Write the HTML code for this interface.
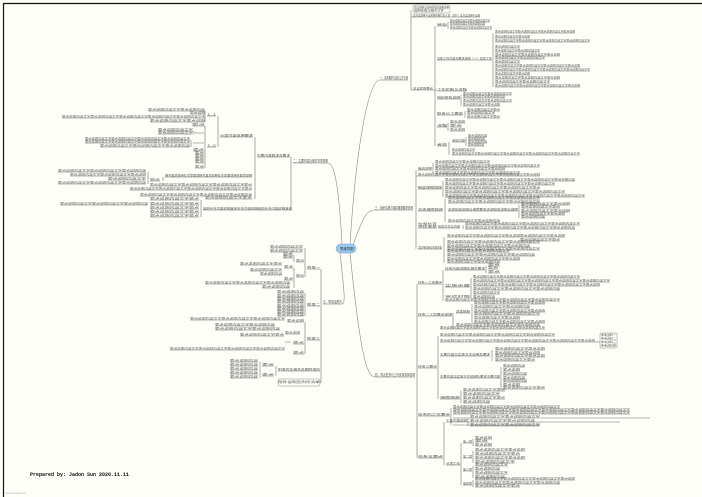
<!DOCTYPE html>
<html><head><meta charset="utf-8"><style>
html,body{margin:0;padding:0;background:#fffff8;}
svg{display:block}
text{font-family:"Liberation Sans","Noto Sans CJK SC",sans-serif;font-size:3px;fill:#555}
.n{font-size:3.2px;fill:#444}
.t{fill:#666;font-size:2.8px}
</style></head><body>
<svg width="702" height="497" viewBox="0 0 702 497" xmlns="http://www.w3.org/2000/svg">
<rect width="702" height="497" fill="#fffff8"/>
<path d="M3.5 497V3.5H702" fill="none" stroke="#111" stroke-width="1.2"/>
<g fill="none" stroke="#888" stroke-width="0.6">
<path d="M350 244C356 150 368 80 380 80"/>
<path d="M353 245C362 220 366 210 375 210"/>
<path d="M350 253C360 350 366 377 375 377"/>
<path d="M342 244C339 190 335 163 328 163"/>
<path d="M340 253C344 290 346 304 342 304"/>
</g>
<rect x="336" y="244" width="20" height="9" rx="4.5" fill="#9cc9ea" stroke="#6fa6d2" stroke-width="0.5"/>
<text x="340" y="249.8" class="n" style="font-size:3.4px;fill:#234">思维导图</text>

<g fill="none" stroke="#666" stroke-width="0.55">
<path d="M380 80H408 M411 10V90 M411 17H413 M413 17H480 M411 90H433 M435 26V146 M433 90H437
M437 26H447 M448 22V29 M450 22H490 M450 25H485 M450 29H492
M437 60H492 M493 33V87 M495 33H575 M495 38H530 M495 42H590 M495 48H520 M495 52H540 M495 56H560 M495 59H545 M495 63H520 M495 67H580 M495 71H590 M495 75H530 M495 79H560 M495 83H550 M495 87H580
M437 91H467 M437 99H460 M461 95V106 M463 95H512 M463 98H505 M463 102H512 M463 106H500
M437 115H463 M465 111V118 M467 111H500 M467 114H495 M467 118H500
M437 127H447 M448 123V131 M450 123H465 M450 127H462 M450 131H465
M437 146H447 M449 142V155 M452 142H465 M466 137V146 M468 137H487 M468 140H485 M468 143H487 M468 146H484 M452 151H475 M452 155H580
M375 210H413 M416 170V249
M418 170H432 M433 163V174 M435 163H490 M435 167H540 M435 170H505 M435 174H520
M416 176H540
M418 189H442 M443 181V197 M445 181H575 M445 185H555 M445 189H540 M445 193H565 M445 197H585
M418 211H443 M445 199V222 M448 199H540 M448 203H540 M448 211H518 M448 222H500 M519 205V218 M521 205H570 M521 208H560 M521 212H570 M521 215H565 M521 218H545
M418 228H437 M438 228H460 M463 225V229 M465 225H580 M465 229H575
M418 249H442 M444 237V263 M447 237H520 M447 243H540 M447 247H530 M447 250H540 M447 252H510 M447 256H535 M447 260H520 M447 263H500 M520 237H565 M520 241H560
M375 377H415 M417 284V458
M418 284H442 M443 270V301 M445 270H485 M486 266V273 M488 266H500 M488 269H498 M488 273H500 M445 287H470 M471 278V298 M473 278H580 M473 282H610 M473 286H600 M473 290H560 M473 294H500 M473 298H495 M445 301H560
M418 316H452 M453 313V329 M456 313H470 M472 304V323 M474 304H545 M474 308H530 M474 312H545 M474 315H540 M474 319H520 M474 323H545 M456 326H540 M440 329H545
M418 368H437 M438 336V399 M440 336H555 M440 342H595 M595 342H600 M440 356H490 M492 350V361 M495 350H545 M495 354H540 M495 357H545 M495 361H535
M440 378H500 M501 367V389 M503 367H525 M503 371H520 M503 375H527 M503 379H525 M503 382H527 M503 386H520 M503 389H545
M440 399H460 M461 391V403 M463 391H505 M463 395H500 M463 399H505 M463 403H490
M418 416H450 M451 408V425 M453 408H560 M453 411H630 M453 414H630 M453 418H650 M453 422H620 M453 425H540
M418 458H443 M444 422V465 M446 422H467 M468 418V426 M470 418H540 M470 422H535 M470 426H540 M446 465H460 M461 443V485
M463 443H472 M473 439V446 M475 439H492 M475 442H488 M475 446H492
M463 458H472 M473 451V463 M475 451H525 M475 455H520 M475 459H525 M475 463H515
M463 471H472 M473 466V478 M475 466H508 M475 470H500 M475 474H508 M475 478H505
M463 485H472 M473 480V487 M475 480H575 M475 484H560 M475 487H520
M293 163H328 M291 157V210 M257 157H290 M255 137V199
M220 137H253 M218 116V147 M207 116H216 M207 147H216 M205 111V122 M148 111H205 M190 114H205 M62 118H205 M150 122H205
M205 126V168 M192 126H205 M195 133H204 M194 131V134 M158 131H193 M158 134H193 M193 143H204 M191 140V147 M85 140H190 M85 143H190 M100 147H190 M193 151H204 M195 154H204 M195 157H204 M195 160H204 M195 163H204 M195 168H204
M165 177H252 M163 177V181 M150 181H160 M148 172V184 M58 172H146 M70 176H146 M108 180H146 M58 184H146
M150 186H252 M130 190H252 M140 196H252 M205 199H252
M203 210H292 M201 200V217 M150 200H199 M150 205H199 M60 205H148 M150 209H199 M150 213H199 M150 217H199
M323 304H342 M321 269V383 M307 269H320 M307 306H320 M307 340H320 M278 371H320
M270 248H303 M270 252H303 M305 248V277 M296 262H304 M294 255V262 M283 255H293 M283 258H293 M296 277H304 M294 268V288 M284 268H293 M240 265H282 M250 271H282 M284 280H293 M260 275H282 M205 284H290 M262 288H290
M305 293V316 M277 293H304 M277 297H304 M277 300H304 M277 303H304 M277 307H304 M277 310H304 M277 313H304 M277 316H304
M305 322V354 M287 322H304 M190 320H285 M285 334H300 M215 326H275 M215 330H280 M240 336H284 M293 344H304 M285 342H291 M170 350H285 M293 354H304
M276 366V376 M262 366H274 M260 362V378 M230 362H258 M230 366H258 M230 370H258 M262 376H274 M230 374H258 M230 378H258"/>
</g>
<g fill="none" stroke="#888" stroke-width="0.5">
<rect x="413" y="5" width="37" height="8" rx="1.5"/>
<rect x="600" y="333" width="17" height="15" rx="1"/>
<rect x="278" y="379" width="42" height="7" rx="1.5"/>
</g>

<text class="n" x="380" y="79" textLength="28" lengthAdjust="spacingAndGlyphs">一、总体要求与目标工作方案</text>
<text class="n" x="375" y="209" textLength="38" lengthAdjust="spacingAndGlyphs">三、组织实施与保障措施要求说明</text>
<text class="n" x="375" y="376" textLength="40" lengthAdjust="spacingAndGlyphs">四、重点任务与工作安排具体说明</text>
<text class="n" x="293" y="162" textLength="35" lengthAdjust="spacingAndGlyphs">二、主要内容及相关事项说明</text>
<text class="n" x="323" y="303" textLength="19" lengthAdjust="spacingAndGlyphs">五、附录及附件</text>
<g class="lbl">
<text x="414" y="8.5" textLength="35" lengthAdjust="spacingAndGlyphs">总体说明与适用范围及编制说明</text>
<text x="414" y="11.7" textLength="30" lengthAdjust="spacingAndGlyphs">编制依据与相关文件</text>
<text x="413" y="16.3" textLength="67" lengthAdjust="spacingAndGlyphs">本方案适用于全部相关单位及人员（试行）本方案适用于全部</text>
<text x="413" y="89.3" textLength="20" lengthAdjust="spacingAndGlyphs">基本原则要点</text>
<text x="437" y="25.3" textLength="10" lengthAdjust="spacingAndGlyphs">目标</text>
<text x="437" y="59.3" textLength="55" lengthAdjust="spacingAndGlyphs">具体工作内容与要求说明（一）具体工作</text>
<text x="437" y="90.3" textLength="30" lengthAdjust="spacingAndGlyphs">工作机制与流程</text>
<text x="437" y="98.3" textLength="23" lengthAdjust="spacingAndGlyphs">组织架构说明</text>
<text x="437" y="114.3" textLength="26" lengthAdjust="spacingAndGlyphs">职责分工要求</text>
<text x="437" y="126.3" textLength="10" lengthAdjust="spacingAndGlyphs">流程</text>
<text x="437" y="145.3" textLength="10" lengthAdjust="spacingAndGlyphs">考核</text>
<text x="452" y="141.3" textLength="13" lengthAdjust="spacingAndGlyphs">考核内容</text>
<text x="418" y="169.3" textLength="14" lengthAdjust="spacingAndGlyphs">组织领导</text>
<text x="418" y="188.3" textLength="24" lengthAdjust="spacingAndGlyphs">制度保障措施</text>
<text x="418" y="210.3" textLength="25" lengthAdjust="spacingAndGlyphs">资源保障措施</text>
<text x="418" y="224.8" textLength="19" lengthAdjust="spacingAndGlyphs">监督检查</text>
<text x="418" y="227.3" textLength="19" lengthAdjust="spacingAndGlyphs">评估考核</text>
<text x="438" y="227.3" textLength="22" lengthAdjust="spacingAndGlyphs">检查方式与内容</text>
<text x="448" y="210.3" textLength="70" lengthAdjust="spacingAndGlyphs">资源配置说明与保障要求资源配置说明与保障</text>
<text x="418" y="248.3" textLength="24" lengthAdjust="spacingAndGlyphs">宣传培训安排</text>
<text x="418" y="283.3" textLength="24" lengthAdjust="spacingAndGlyphs">任务一工作要点</text>
<text x="445" y="269.3" textLength="40" lengthAdjust="spacingAndGlyphs">任务内容说明及相关要求</text>
<text x="445" y="286.3" textLength="25" lengthAdjust="spacingAndGlyphs">实施步骤</text>
<text x="445" y="297.3" textLength="25" lengthAdjust="spacingAndGlyphs">完成时限</text>
<text x="418" y="315.3" textLength="34" lengthAdjust="spacingAndGlyphs">任务二工作要点说明</text>
<text x="456" y="312.3" textLength="14" lengthAdjust="spacingAndGlyphs">具体措施</text>
<text x="418" y="367.3" textLength="19" lengthAdjust="spacingAndGlyphs">任务三要点</text>
<text x="440" y="355.3" textLength="50" lengthAdjust="spacingAndGlyphs">主要内容与实施方式说明及要求</text>
<text x="440" y="377.3" textLength="60" lengthAdjust="spacingAndGlyphs">主要内容与实施方式说明及要求主要内容</text>
<text x="440" y="398.3" textLength="20" lengthAdjust="spacingAndGlyphs">保障措施</text>
<text x="418" y="415.3" textLength="32" lengthAdjust="spacingAndGlyphs">任务四工作要点</text>
<text x="418" y="457.3" textLength="25" lengthAdjust="spacingAndGlyphs">任务五要点</text>
<text x="446" y="421.3" textLength="21" lengthAdjust="spacingAndGlyphs">工作内容说明</text>
<text x="446" y="464.3" textLength="14" lengthAdjust="spacingAndGlyphs">分项工作</text>
<text x="463" y="442.3" textLength="9" lengthAdjust="spacingAndGlyphs">第一项</text>
<text x="463" y="457.3" textLength="9" lengthAdjust="spacingAndGlyphs">第二项</text>
<text x="463" y="470.3" textLength="9" lengthAdjust="spacingAndGlyphs">第三项</text>
<text x="463" y="484.3" textLength="9" lengthAdjust="spacingAndGlyphs">第四项</text>
<text x="257" y="156.3" textLength="33" lengthAdjust="spacingAndGlyphs">主要内容概述及要求</text>
<text x="220" y="136.3" textLength="33" lengthAdjust="spacingAndGlyphs">分项内容说明要求</text>
<text x="207" y="115.3" textLength="9" lengthAdjust="spacingAndGlyphs">1.1</text>
<text x="207" y="146.3" textLength="9" lengthAdjust="spacingAndGlyphs">1.2</text>
<text x="165" y="176.3" textLength="87" lengthAdjust="spacingAndGlyphs">相关事项说明及注意事项相关事项说明及注意事项相关事项说明</text>
<text x="203" y="209.3" textLength="89" lengthAdjust="spacingAndGlyphs">其他补充内容说明其他补充内容说明其他补充内容说明其他</text>
<text x="278" y="382.8" textLength="42" lengthAdjust="spacingAndGlyphs">附件说明及附件清单</text>
<text x="307" y="268.3" textLength="13" lengthAdjust="spacingAndGlyphs">附录一</text>
<text x="307" y="305.3" textLength="13" lengthAdjust="spacingAndGlyphs">附录二</text>
<text x="307" y="339.3" textLength="13" lengthAdjust="spacingAndGlyphs">附录三</text>
<text x="278" y="370.3" textLength="42" lengthAdjust="spacingAndGlyphs">附录四及相关说明附录四</text>
<text x="601" y="336" textLength="15" lengthAdjust="spacingAndGlyphs">参考资料一</text>
<text x="601" y="339.5" textLength="15" lengthAdjust="spacingAndGlyphs">参考资料二</text>
<text x="601" y="343" textLength="15" lengthAdjust="spacingAndGlyphs">参考资料三</text>
<text x="601" y="346.5" textLength="15" lengthAdjust="spacingAndGlyphs">参考资料四</text>
</g>

<g class="t" lengthAdjust="spacingAndGlyphs">
<text class="t" lengthAdjust="spacingAndGlyphs" x="450" y="21.4" textLength="40">要点说明内容文字要点说明内容文字</text>
<text class="t" lengthAdjust="spacingAndGlyphs" x="450" y="24.4" textLength="35">要点说明内容文字要点说明内容</text>
<text class="t" lengthAdjust="spacingAndGlyphs" x="450" y="28.4" textLength="42">要点说明内容文字要点说明内容文字</text>
<text class="t" lengthAdjust="spacingAndGlyphs" x="495" y="32.4" textLength="80">要点说明内容文字要点说明内容文字要点说明内容文字要点说明</text>
<text class="t" lengthAdjust="spacingAndGlyphs" x="495" y="37.4" textLength="35">要点说明内容文字要点说明</text>
<text class="t" lengthAdjust="spacingAndGlyphs" x="495" y="41.4" textLength="95">要点说明内容文字要点说明内容文字要点说明内容文字要点说明内容文字</text>
<text class="t" lengthAdjust="spacingAndGlyphs" x="495" y="47.4" textLength="25">要点说明内容文字</text>
<text class="t" lengthAdjust="spacingAndGlyphs" x="495" y="51.4" textLength="45">要点说明内容文字要点说明内容文字</text>
<text class="t" lengthAdjust="spacingAndGlyphs" x="495" y="55.4" textLength="65">要点说明内容文字要点说明内容文字要点说明</text>
<text class="t" lengthAdjust="spacingAndGlyphs" x="495" y="58.4" textLength="50">要点说明内容文字要点说明内容文字</text>
<text class="t" lengthAdjust="spacingAndGlyphs" x="495" y="62.4" textLength="25">要点说明内容文字</text>
<text class="t" lengthAdjust="spacingAndGlyphs" x="495" y="66.4" textLength="85">要点说明内容文字要点说明内容文字要点说明内容文字要点说明</text>
<text class="t" lengthAdjust="spacingAndGlyphs" x="495" y="70.4" textLength="95">要点说明内容文字要点说明内容文字要点说明内容文字要点说明内容文字</text>
<text class="t" lengthAdjust="spacingAndGlyphs" x="495" y="74.4" textLength="35">要点说明内容文字要点说明</text>
<text class="t" lengthAdjust="spacingAndGlyphs" x="495" y="78.4" textLength="65">要点说明内容文字要点说明内容文字要点说明</text>
<text class="t" lengthAdjust="spacingAndGlyphs" x="495" y="82.4" textLength="55">要点说明内容文字要点说明内容文字</text>
<text class="t" lengthAdjust="spacingAndGlyphs" x="495" y="86.4" textLength="85">要点说明内容文字要点说明内容文字要点说明内容文字要点说明</text>
<text class="t" lengthAdjust="spacingAndGlyphs" x="463" y="94.4" textLength="49">要点说明内容文字要点说明内容文字</text>
<text class="t" lengthAdjust="spacingAndGlyphs" x="463" y="97.4" textLength="42">要点说明内容文字要点说明内容</text>
<text class="t" lengthAdjust="spacingAndGlyphs" x="463" y="101.4" textLength="49">要点说明内容文字要点说明内容文字</text>
<text class="t" lengthAdjust="spacingAndGlyphs" x="463" y="105.4" textLength="37">要点说明内容文字要点说明</text>
<text class="t" lengthAdjust="spacingAndGlyphs" x="467" y="110.4" textLength="33">要点说明内容文字要点</text>
<text class="t" lengthAdjust="spacingAndGlyphs" x="467" y="113.4" textLength="28">要点说明内容文字</text>
<text class="t" lengthAdjust="spacingAndGlyphs" x="467" y="117.4" textLength="33">要点说明内容文字要点</text>
<text class="t" lengthAdjust="spacingAndGlyphs" x="450" y="122.4" textLength="15">要点说明</text>
<text class="t" lengthAdjust="spacingAndGlyphs" x="450" y="126.4" textLength="12">要点</text>
<text class="t" lengthAdjust="spacingAndGlyphs" x="450" y="130.4" textLength="15">要点说明</text>
<text class="t" lengthAdjust="spacingAndGlyphs" x="468" y="136.4" textLength="19">要点说明内容</text>
<text class="t" lengthAdjust="spacingAndGlyphs" x="468" y="139.4" textLength="17">要点说明内容</text>
<text class="t" lengthAdjust="spacingAndGlyphs" x="468" y="142.4" textLength="19">要点说明内容</text>
<text class="t" lengthAdjust="spacingAndGlyphs" x="468" y="145.4" textLength="16">要点说明内容</text>
<text class="t" lengthAdjust="spacingAndGlyphs" x="452" y="150.4" textLength="23">要点说明内容文字</text>
<text class="t" lengthAdjust="spacingAndGlyphs" x="452" y="154.4" textLength="128">要点说明内容文字要点说明内容文字要点说明内容文字要点说明内容文字要点说明内容文字</text>
<text class="t" lengthAdjust="spacingAndGlyphs" x="435" y="162.4" textLength="55">要点说明内容文字要点说明内容文字</text>
<text class="t" lengthAdjust="spacingAndGlyphs" x="435" y="166.4" textLength="105">要点说明内容文字要点说明内容文字要点说明内容文字要点说明内容文字</text>
<text class="t" lengthAdjust="spacingAndGlyphs" x="435" y="169.4" textLength="70">要点说明内容文字要点说明内容文字要点说明</text>
<text class="t" lengthAdjust="spacingAndGlyphs" x="435" y="173.4" textLength="85">要点说明内容文字要点说明内容文字要点说明内容文字</text>
<text class="t" lengthAdjust="spacingAndGlyphs" x="418" y="175.4" textLength="122">要点说明内容文字要点说明内容文字要点说明内容文字要点说明内容文字要点说明</text>
<text class="t" lengthAdjust="spacingAndGlyphs" x="445" y="180.4" textLength="130">要点说明内容文字要点说明内容文字要点说明内容文字要点说明内容文字要点说明内容</text>
<text class="t" lengthAdjust="spacingAndGlyphs" x="445" y="184.4" textLength="110">要点说明内容文字要点说明内容文字要点说明内容文字要点说明内容文字</text>
<text class="t" lengthAdjust="spacingAndGlyphs" x="445" y="188.4" textLength="95">要点说明内容文字要点说明内容文字要点说明内容文字要点</text>
<text class="t" lengthAdjust="spacingAndGlyphs" x="445" y="192.4" textLength="120">要点说明内容文字要点说明内容文字要点说明内容文字要点说明内容文字</text>
<text class="t" lengthAdjust="spacingAndGlyphs" x="445" y="196.4" textLength="140">要点说明内容文字要点说明内容文字要点说明内容文字要点说明内容文字要点说明内容文字</text>
<text class="t" lengthAdjust="spacingAndGlyphs" x="448" y="198.4" textLength="92">要点说明内容文字要点说明内容文字要点说明内容文字</text>
<text class="t" lengthAdjust="spacingAndGlyphs" x="448" y="202.4" textLength="92">要点说明内容文字要点说明内容文字要点说明内容文字</text>
<text class="t" lengthAdjust="spacingAndGlyphs" x="448" y="221.4" textLength="52">要点说明内容文字要点说明内容</text>
<text class="t" lengthAdjust="spacingAndGlyphs" x="521" y="204.4" textLength="49">要点说明内容文字要点说明</text>
<text class="t" lengthAdjust="spacingAndGlyphs" x="521" y="207.4" textLength="39">要点说明内容文字要点</text>
<text class="t" lengthAdjust="spacingAndGlyphs" x="521" y="211.4" textLength="49">要点说明内容文字要点说明</text>
<text class="t" lengthAdjust="spacingAndGlyphs" x="521" y="214.4" textLength="44">要点说明内容文字要点说明</text>
<text class="t" lengthAdjust="spacingAndGlyphs" x="521" y="217.4" textLength="24">要点说明内容</text>
<text class="t" lengthAdjust="spacingAndGlyphs" x="465" y="224.4" textLength="115">要点说明内容文字要点说明内容文字要点说明内容文字要点说明内容文字</text>
<text class="t" lengthAdjust="spacingAndGlyphs" x="465" y="228.4" textLength="110">要点说明内容文字要点说明内容文字要点说明内容文字要点说明内容</text>
<text class="t" lengthAdjust="spacingAndGlyphs" x="447" y="236.4" textLength="73">要点说明内容文字要点说明内容文字要点说明</text>
<text class="t" lengthAdjust="spacingAndGlyphs" x="447" y="242.4" textLength="93">要点说明内容文字要点说明内容文字要点说明内容文字</text>
<text class="t" lengthAdjust="spacingAndGlyphs" x="447" y="246.4" textLength="83">要点说明内容文字要点说明内容文字要点说明内容</text>
<text class="t" lengthAdjust="spacingAndGlyphs" x="447" y="249.4" textLength="93">要点说明内容文字要点说明内容文字要点说明内容文字</text>
<text class="t" lengthAdjust="spacingAndGlyphs" x="447" y="251.7" textLength="63">要点说明内容文字要点说明内容文字</text>
<text class="t" lengthAdjust="spacingAndGlyphs" x="447" y="255.4" textLength="88">要点说明内容文字要点说明内容文字要点说明内容</text>
<text class="t" lengthAdjust="spacingAndGlyphs" x="447" y="259.4" textLength="73">要点说明内容文字要点说明内容文字要点说明</text>
<text class="t" lengthAdjust="spacingAndGlyphs" x="447" y="262.4" textLength="53">要点说明内容文字要点说明内容</text>
<text class="t" lengthAdjust="spacingAndGlyphs" x="520" y="236.4" textLength="45">要点说明内容文字要点说明</text>
<text class="t" lengthAdjust="spacingAndGlyphs" x="520" y="240.4" textLength="40">要点说明内容文字要点</text>
<text class="t" lengthAdjust="spacingAndGlyphs" x="488" y="265.4" textLength="12">要点</text>
<text class="t" lengthAdjust="spacingAndGlyphs" x="488" y="268.4" textLength="10">要点</text>
<text class="t" lengthAdjust="spacingAndGlyphs" x="488" y="272.4" textLength="12">要点</text>
<text class="t" lengthAdjust="spacingAndGlyphs" x="473" y="277.4" textLength="107">要点说明内容文字要点说明内容文字要点说明内容文字要点说明内容文字</text>
<text class="t" lengthAdjust="spacingAndGlyphs" x="473" y="281.4" textLength="137">要点说明内容文字要点说明内容文字要点说明内容文字要点说明内容文字要点说明内容文字</text>
<text class="t" lengthAdjust="spacingAndGlyphs" x="473" y="285.4" textLength="127">要点说明内容文字要点说明内容文字要点说明内容文字要点说明内容文字要点说明</text>
<text class="t" lengthAdjust="spacingAndGlyphs" x="473" y="289.4" textLength="87">要点说明内容文字要点说明内容文字要点说明内容</text>
<text class="t" lengthAdjust="spacingAndGlyphs" x="473" y="293.4" textLength="27">要点说明内容文字</text>
<text class="t" lengthAdjust="spacingAndGlyphs" x="473" y="297.4" textLength="22">要点说明内容</text>
<text class="t" lengthAdjust="spacingAndGlyphs" x="445" y="300.4" textLength="115">要点说明内容文字要点说明内容文字要点说明内容文字要点说明内容文字</text>
<text class="t" lengthAdjust="spacingAndGlyphs" x="474" y="303.4" textLength="71">要点说明内容文字要点说明内容文字要点说明</text>
<text class="t" lengthAdjust="spacingAndGlyphs" x="474" y="307.4" textLength="56">要点说明内容文字要点说明内容</text>
<text class="t" lengthAdjust="spacingAndGlyphs" x="474" y="311.4" textLength="71">要点说明内容文字要点说明内容文字要点说明</text>
<text class="t" lengthAdjust="spacingAndGlyphs" x="474" y="314.4" textLength="66">要点说明内容文字要点说明内容文字</text>
<text class="t" lengthAdjust="spacingAndGlyphs" x="474" y="318.4" textLength="46">要点说明内容文字要点说明</text>
<text class="t" lengthAdjust="spacingAndGlyphs" x="474" y="322.4" textLength="71">要点说明内容文字要点说明内容文字要点说明</text>
<text class="t" lengthAdjust="spacingAndGlyphs" x="456" y="325.4" textLength="84">要点说明内容文字要点说明内容文字要点说明内容</text>
<text class="t" lengthAdjust="spacingAndGlyphs" x="440" y="328.4" textLength="105">要点说明内容文字要点说明内容文字要点说明内容文字要点说明内容文字</text>
<text class="t" lengthAdjust="spacingAndGlyphs" x="440" y="335.4" textLength="115">要点说明内容文字要点说明内容文字要点说明内容文字要点说明内容文字</text>
<text class="t" lengthAdjust="spacingAndGlyphs" x="440" y="341.4" textLength="155">要点说明内容文字要点说明内容文字要点说明内容文字要点说明内容文字要点说明内容文字要点说明</text>
<text class="t" lengthAdjust="spacingAndGlyphs" x="495" y="349.4" textLength="50">要点说明内容文字要点说明</text>
<text class="t" lengthAdjust="spacingAndGlyphs" x="495" y="353.4" textLength="45">要点说明内容文字要点说明</text>
<text class="t" lengthAdjust="spacingAndGlyphs" x="495" y="356.4" textLength="50">要点说明内容文字要点说明</text>
<text class="t" lengthAdjust="spacingAndGlyphs" x="495" y="360.4" textLength="40">要点说明内容文字要点</text>
<text class="t" lengthAdjust="spacingAndGlyphs" x="503" y="366.4" textLength="22">要点说明内容</text>
<text class="t" lengthAdjust="spacingAndGlyphs" x="503" y="370.4" textLength="17">要点说明</text>
<text class="t" lengthAdjust="spacingAndGlyphs" x="503" y="374.4" textLength="24">要点说明内容</text>
<text class="t" lengthAdjust="spacingAndGlyphs" x="503" y="378.4" textLength="22">要点说明内容</text>
<text class="t" lengthAdjust="spacingAndGlyphs" x="503" y="381.4" textLength="24">要点说明内容</text>
<text class="t" lengthAdjust="spacingAndGlyphs" x="503" y="385.4" textLength="17">要点说明</text>
<text class="t" lengthAdjust="spacingAndGlyphs" x="503" y="388.4" textLength="42">要点说明内容文字要点</text>
<text class="t" lengthAdjust="spacingAndGlyphs" x="463" y="390.4" textLength="42">要点说明内容文字要点</text>
<text class="t" lengthAdjust="spacingAndGlyphs" x="463" y="394.4" textLength="37">要点说明内容文字</text>
<text class="t" lengthAdjust="spacingAndGlyphs" x="463" y="398.4" textLength="42">要点说明内容文字要点</text>
<text class="t" lengthAdjust="spacingAndGlyphs" x="463" y="402.4" textLength="27">要点说明内容</text>
<text class="t" lengthAdjust="spacingAndGlyphs" x="453" y="407.4" textLength="107">要点说明内容文字要点说明内容文字要点说明内容文字要点说明内容文字</text>
<text class="t" lengthAdjust="spacingAndGlyphs" x="453" y="410.4" textLength="177">要点说明内容文字要点说明内容文字要点说明内容文字要点说明内容文字要点说明内容文字要点说明内容文字</text>
<text class="t" lengthAdjust="spacingAndGlyphs" x="453" y="413.4" textLength="177">要点说明内容文字要点说明内容文字要点说明内容文字要点说明内容文字要点说明内容文字要点说明内容文字</text>
<text class="t" lengthAdjust="spacingAndGlyphs" x="470" y="417.4" textLength="70">要点说明内容文字要点说明内容文字</text>
<text class="t" lengthAdjust="spacingAndGlyphs" x="470" y="421.4" textLength="65">要点说明内容文字要点说明内容</text>
<text class="t" lengthAdjust="spacingAndGlyphs" x="470" y="425.4" textLength="70">要点说明内容文字要点说明内容文字</text>
<text class="t" lengthAdjust="spacingAndGlyphs" x="475" y="438.4" textLength="17">要点说明</text>
<text class="t" lengthAdjust="spacingAndGlyphs" x="475" y="441.4" textLength="13">要点</text>
<text class="t" lengthAdjust="spacingAndGlyphs" x="475" y="445.4" textLength="17">要点说明</text>
<text class="t" lengthAdjust="spacingAndGlyphs" x="475" y="450.4" textLength="50">要点说明内容文字要点说明</text>
<text class="t" lengthAdjust="spacingAndGlyphs" x="475" y="454.4" textLength="45">要点说明内容文字要点</text>
<text class="t" lengthAdjust="spacingAndGlyphs" x="475" y="458.4" textLength="50">要点说明内容文字要点说明</text>
<text class="t" lengthAdjust="spacingAndGlyphs" x="475" y="462.4" textLength="40">要点说明内容文字</text>
<text class="t" lengthAdjust="spacingAndGlyphs" x="475" y="465.4" textLength="33">要点说明内容文字</text>
<text class="t" lengthAdjust="spacingAndGlyphs" x="475" y="469.4" textLength="25">要点说明内容</text>
<text class="t" lengthAdjust="spacingAndGlyphs" x="475" y="473.4" textLength="33">要点说明内容文字</text>
<text class="t" lengthAdjust="spacingAndGlyphs" x="475" y="477.4" textLength="30">要点说明内容</text>
<text class="t" lengthAdjust="spacingAndGlyphs" x="475" y="479.4" textLength="100">要点说明内容文字要点说明内容文字要点说明内容文字要点说明</text>
<text class="t" lengthAdjust="spacingAndGlyphs" x="475" y="483.4" textLength="85">要点说明内容文字要点说明内容文字要点说明内容</text>
<text class="t" lengthAdjust="spacingAndGlyphs" x="475" y="486.4" textLength="45">要点说明内容文字要点</text>
<!-- left -->
<text class="t" lengthAdjust="spacingAndGlyphs" x="148" y="110.4" textLength="57">要点说明内容文字要点说明内容</text>
<text class="t" lengthAdjust="spacingAndGlyphs" x="190" y="113.4" textLength="15">要点说明</text>
<text class="t" lengthAdjust="spacingAndGlyphs" x="62" y="117.4" textLength="143">要点说明内容文字要点说明内容文字要点说明内容文字要点说明内容文字要点说明内容文字</text>
<text class="t" lengthAdjust="spacingAndGlyphs" x="150" y="121.4" textLength="55">要点说明内容文字要点说明</text>
<text class="t" lengthAdjust="spacingAndGlyphs" x="192" y="125.4" textLength="13">要点</text>
<text class="t" lengthAdjust="spacingAndGlyphs" x="158" y="130.4" textLength="35">要点说明内容文字</text>
<text class="t" lengthAdjust="spacingAndGlyphs" x="158" y="133.4" textLength="35">要点说明内容文字</text>
<text class="t" lengthAdjust="spacingAndGlyphs" x="85" y="139.4" textLength="105">要点说明内容文字要点说明内容文字要点说明内容文字要点说明内容文字</text>
<text class="t" lengthAdjust="spacingAndGlyphs" x="85" y="142.4" textLength="105">要点说明内容文字要点说明内容文字要点说明内容文字要点说明内容文字</text>
<text class="t" lengthAdjust="spacingAndGlyphs" x="100" y="146.4" textLength="90">要点说明内容文字要点说明内容文字要点说明内容</text>
<text class="t" lengthAdjust="spacingAndGlyphs" x="193" y="150.4" textLength="11">要点</text>
<text class="t" lengthAdjust="spacingAndGlyphs" x="195" y="153.4" textLength="9">要点</text>
<text class="t" lengthAdjust="spacingAndGlyphs" x="195" y="156.4" textLength="9">要点</text>
<text class="t" lengthAdjust="spacingAndGlyphs" x="195" y="159.4" textLength="9">要点</text>
<text class="t" lengthAdjust="spacingAndGlyphs" x="195" y="162.4" textLength="9">要点</text>
<text class="t" lengthAdjust="spacingAndGlyphs" x="195" y="167.4" textLength="9">要点</text>
<text class="t" lengthAdjust="spacingAndGlyphs" x="58" y="171.4" textLength="88">要点说明内容文字要点说明内容文字要点说明内容</text>
<text class="t" lengthAdjust="spacingAndGlyphs" x="70" y="175.4" textLength="76">要点说明内容文字要点说明内容文字要点说明</text>
<text class="t" lengthAdjust="spacingAndGlyphs" x="108" y="179.4" textLength="38">要点说明内容文字</text>
<text class="t" lengthAdjust="spacingAndGlyphs" x="150" y="180.4" textLength="10">要点</text>
<text class="t" lengthAdjust="spacingAndGlyphs" x="58" y="183.4" textLength="88">要点说明内容文字要点说明内容文字要点说明内容</text>
<text class="t" lengthAdjust="spacingAndGlyphs" x="150" y="185.4" textLength="102">要点说明内容文字要点说明内容文字要点说明内容文字要点</text>
<text class="t" lengthAdjust="spacingAndGlyphs" x="130" y="189.4" textLength="122">要点说明内容文字要点说明内容文字要点说明内容文字要点说明内容文字要点</text>
<text class="t" lengthAdjust="spacingAndGlyphs" x="140" y="195.4" textLength="112">要点说明内容文字要点说明内容文字要点说明内容文字要点说明内容</text>
<text class="t" lengthAdjust="spacingAndGlyphs" x="205" y="198.4" textLength="47">要点说明内容文字要点</text>
<text class="t" lengthAdjust="spacingAndGlyphs" x="150" y="199.4" textLength="49">要点说明内容文字要点</text>
<text class="t" lengthAdjust="spacingAndGlyphs" x="150" y="204.4" textLength="49">要点说明内容文字要点</text>
<text class="t" lengthAdjust="spacingAndGlyphs" x="60" y="204.4" textLength="88">要点说明内容文字要点说明内容文字要点说明内容</text>
<text class="t" lengthAdjust="spacingAndGlyphs" x="150" y="208.4" textLength="49">要点说明内容文字要点</text>
<text class="t" lengthAdjust="spacingAndGlyphs" x="150" y="212.4" textLength="49">要点说明内容文字要点</text>
<text class="t" lengthAdjust="spacingAndGlyphs" x="150" y="216.4" textLength="49">要点说明内容文字要点</text>
<text class="t" lengthAdjust="spacingAndGlyphs" x="270" y="247.4" textLength="33">要点说明内容文字</text>
<text class="t" lengthAdjust="spacingAndGlyphs" x="270" y="251.4" textLength="33">要点说明内容文字</text>
<text class="t" lengthAdjust="spacingAndGlyphs" x="283" y="254.4" textLength="10">要点</text>
<text class="t" lengthAdjust="spacingAndGlyphs" x="283" y="257.4" textLength="10">要点</text>
<text class="t" lengthAdjust="spacingAndGlyphs" x="296" y="261.4" textLength="8">要点</text>
<text class="t" lengthAdjust="spacingAndGlyphs" x="296" y="276.4" textLength="8">要点</text>
<text class="t" lengthAdjust="spacingAndGlyphs" x="284" y="267.4" textLength="9">要点</text>
<text class="t" lengthAdjust="spacingAndGlyphs" x="284" y="279.4" textLength="9">要点</text>
<text class="t" lengthAdjust="spacingAndGlyphs" x="240" y="264.4" textLength="42">要点说明内容文字要点</text>
<text class="t" lengthAdjust="spacingAndGlyphs" x="250" y="270.4" textLength="32">要点说明内容文字</text>
<text class="t" lengthAdjust="spacingAndGlyphs" x="260" y="274.4" textLength="22">要点说明内容</text>
<text class="t" lengthAdjust="spacingAndGlyphs" x="205" y="283.4" textLength="85">要点说明内容文字要点说明内容文字要点说明内容</text>
<text class="t" lengthAdjust="spacingAndGlyphs" x="262" y="287.4" textLength="28">要点说明内容</text>
<text class="t" lengthAdjust="spacingAndGlyphs" x="277" y="292.4" textLength="27">要点说明内容</text>
<text class="t" lengthAdjust="spacingAndGlyphs" x="277" y="296.4" textLength="27">要点说明内容</text>
<text class="t" lengthAdjust="spacingAndGlyphs" x="277" y="299.4" textLength="27">要点说明内容</text>
<text class="t" lengthAdjust="spacingAndGlyphs" x="277" y="302.4" textLength="27">要点说明内容</text>
<text class="t" lengthAdjust="spacingAndGlyphs" x="277" y="306.4" textLength="27">要点说明内容</text>
<text class="t" lengthAdjust="spacingAndGlyphs" x="277" y="309.4" textLength="27">要点说明内容</text>
<text class="t" lengthAdjust="spacingAndGlyphs" x="277" y="312.4" textLength="27">要点说明内容</text>
<text class="t" lengthAdjust="spacingAndGlyphs" x="277" y="315.4" textLength="27">要点说明内容</text>
<text class="t" lengthAdjust="spacingAndGlyphs" x="190" y="319.4" textLength="95">要点说明内容文字要点说明内容文字要点说明内容文字</text>
<text class="t" lengthAdjust="spacingAndGlyphs" x="287" y="321.4" textLength="17">要点说明</text>
<text class="t" lengthAdjust="spacingAndGlyphs" x="215" y="325.4" textLength="60">要点说明内容文字要点说明内容</text>
<text class="t" lengthAdjust="spacingAndGlyphs" x="215" y="329.4" textLength="65">要点说明内容文字要点说明内容</text>
<text class="t" lengthAdjust="spacingAndGlyphs" x="285" y="333.4" textLength="15">要点说明</text>
<text class="t" lengthAdjust="spacingAndGlyphs" x="240" y="335.4" textLength="44">要点说明内容文字要点</text>
<text class="t" lengthAdjust="spacingAndGlyphs" x="293" y="343.4" textLength="11">要点</text>
<text class="t" lengthAdjust="spacingAndGlyphs" x="170" y="349.4" textLength="115">要点说明内容文字要点说明内容文字要点说明内容文字要点说明内容文字</text>
<text class="t" lengthAdjust="spacingAndGlyphs" x="293" y="353.4" textLength="11">要点</text>
<text class="t" lengthAdjust="spacingAndGlyphs" x="262" y="365.4" textLength="12">要点</text>
<text class="t" lengthAdjust="spacingAndGlyphs" x="262" y="375.4" textLength="12">要点</text>
<text class="t" lengthAdjust="spacingAndGlyphs" x="230" y="361.4" textLength="28">要点说明内容</text>
<text class="t" lengthAdjust="spacingAndGlyphs" x="230" y="365.4" textLength="28">要点说明内容</text>
<text class="t" lengthAdjust="spacingAndGlyphs" x="230" y="369.4" textLength="28">要点说明内容</text>
<text class="t" lengthAdjust="spacingAndGlyphs" x="230" y="373.4" textLength="28">要点说明内容</text>
<text class="t" lengthAdjust="spacingAndGlyphs" x="230" y="377.4" textLength="28">要点说明内容</text>
</g>

<text x="30" y="476" style="font-family:'Liberation Mono',monospace;font-size:5px;font-weight:bold;fill:#111">Prepared by: Jadon Sun 2020.11.11</text>
<text x="5" y="494" style="font-size:2.5px;fill:#aaa">www.example.com</text>
</svg>
</body></html>
